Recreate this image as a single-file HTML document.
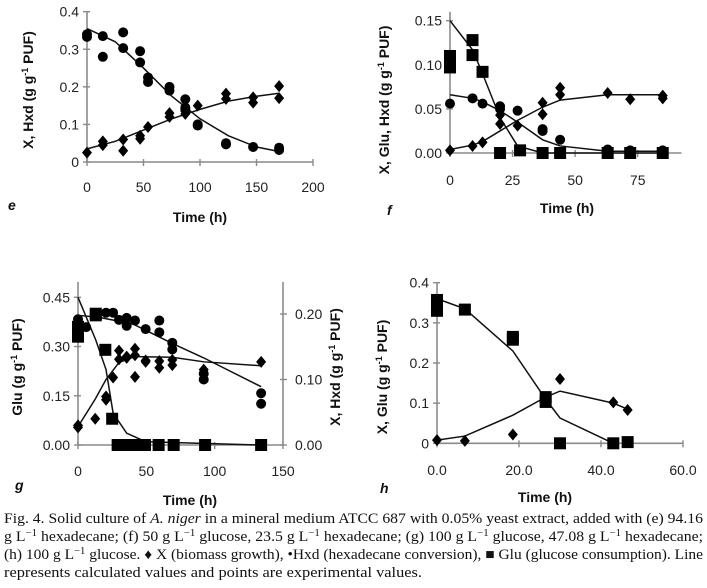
<!DOCTYPE html>
<html><head><meta charset="utf-8">
<style>
html,body{margin:0;padding:0;background:#fff;}
svg{display:block;}
text{font-family:"Liberation Sans","DejaVu Sans",sans-serif;}
.tick{font-size:14px;fill:#222;}
.ttl{font-size:14px;font-weight:bold;fill:#111;}
.cap{font-family:"Liberation Serif","DejaVu Serif",serif;font-size:14.5px;fill:#111;}
</style></head>
<body>
<svg id="fig" width="707" height="588" viewBox="0 0 707 588" xmlns="http://www.w3.org/2000/svg">
<g id="layer"></g>
<g>
<text class="cap" x="4" y="523" textLength="699" lengthAdjust="spacingAndGlyphs">Fig. 4.  Solid culture of <tspan font-style="italic">A. niger</tspan> in a mineral medium ATCC 687 with 0.05% yeast extract, added with (e) 94.16</text>
<text class="cap" x="4" y="541" textLength="699" lengthAdjust="spacingAndGlyphs">g L<tspan dy="-5" font-size="10">−1</tspan><tspan dy="5"> hexadecane; (f) 50 g L</tspan><tspan dy="-5" font-size="10">−1</tspan><tspan dy="5"> glucose, 23.5 g L</tspan><tspan dy="-5" font-size="10">−1</tspan><tspan dy="5"> hexadecane; (g) 100 g L</tspan><tspan dy="-5" font-size="10">−1</tspan><tspan dy="5"> glucose, 47.08 g L</tspan><tspan dy="-5" font-size="10">−1</tspan><tspan dy="5"> hexadecane;</tspan></text>
<text class="cap" x="4" y="559" textLength="699" lengthAdjust="spacingAndGlyphs">(h) 100 g L<tspan dy="-5" font-size="10">−1</tspan><tspan dy="5"> glucose. ♦ X (biomass growth), •Hxd (hexadecane conversion), ■ Glu (glucose consumption). Line</tspan></text>
<text class="cap" x="4" y="577" textLength="418" lengthAdjust="spacingAndGlyphs">represents calculated values and points are experimental values.</text>
</g>
</svg>
<script>
// ---------- Panel e ----------
const eHxdT=[0,0,14,14,32,32,47,47,54,54,73,73,87,87,87,98,98,123,123,147,170,170];
const eHxdV=[0.34,0.333,0.335,0.28,0.345,0.303,0.295,0.265,0.225,0.213,0.2,0.19,0.167,0.145,0.14,0.1,0.097,0.05,0.047,0.04,0.038,0.032];
const eXT=[0,14,14,32,32,47,47,54,73,73,87,87,98,123,123,147,147,170,170];
const eXV=[0.025,0.055,0.045,0.06,0.03,0.07,0.062,0.093,0.13,0.12,0.135,0.128,0.15,0.182,0.168,0.172,0.158,0.202,0.17];
const eFitT=[0,25,50,75,100,125,150,170];
const eFitHxd=[0.355,0.32,0.25,0.175,0.115,0.07,0.04,0.028];
const eFitX=[0.035,0.055,0.085,0.115,0.14,0.162,0.175,0.183];
const eYTicks=[0,0.1,0.2,0.3,0.4];
const eYLabels=["0","0.1","0.2","0.3","0.4"];
const eXTicks=[0,50,100,150,200];
const eXLabels=["0","50","100","150","200"];
// ---------- Panel f ----------
const fGluT=[0,0,9,9,13,20,28,37,44,63,72,85];
const fGluV=[0.11,0.097,0.128,0.111,0.092,0,0.003,0,0,0,0,0];
const fHxdT=[0,9,13,20,20,27,37,37,44,63,72,85];
const fHxdV=[0.056,0.062,0.056,0.053,0.05,0.048,0.027,0.025,0.015,0.004,0.003,0.003];
const fXT=[0,9,13,20,20,27,37,37,44,44,63,72,85,85];
const fXV=[0.003,0.008,0.012,0.033,0.043,0.031,0.057,0.044,0.074,0.066,0.068,0.061,0.065,0.062];
const fFitGluT=[0,9,13,20,27,37,85];
const fFitGlu=[0.15,0.117,0.09,0.04,0.008,0,0];
const fFitT=[0,9,13,20,27,37,44,63,85];
const fFitHxd=[0.066,0.062,0.058,0.048,0.035,0.015,0.008,0.002,0.002];
const fFitX=[0.004,0.009,0.013,0.025,0.037,0.052,0.06,0.066,0.066];
const fYTicks=[0,0.05,0.1,0.15];
const fYLabels=["0.00","0.05","0.10","0.15"];
const fXTicks=[0,25,50,75];
const fXLabels=["0","25","50","75"];
// ---------- Panel g ----------
const gGluT=[0,0,0,13,13,20,25,29,33,35,40,43,49,59,70,93,134];
const gGluV=[0.36,0.35,0.33,0.4,0.395,0.29,0.08,0,0,0,0,0,0,0,0,0,0];
const gHxdT=[0,0,6,20.5,25.7,30,35.6,35.6,41.7,49.5,59.5,59.5,69,69,92,92,134,134];
const gHxdV=[0.192,0.188,0.18,0.202,0.202,0.191,0.194,0.182,0.19,0.177,0.19,0.172,0.156,0.146,0.1,0.109,0.079,0.063];
const gXT=[0,0,12.6,20.5,20.5,25.7,30,30,35.6,35.6,41.7,41.7,41.7,49.5,49.5,59.5,59.5,69,69,92,92,134];
const gXV=[0.03,0.027,0.04,0.074,0.069,0.103,0.144,0.131,0.135,0.133,0.147,0.104,0.137,0.129,0.127,0.128,0.118,0.13,0.122,0.115,0.108,0.127];
const gFitGluT=[0,13,20.5,25.7,35.6,49.5,134];
const gFitGlu=[0.45,0.32,0.23,0.097,0.036,0.01,0];
const gFitHxdT=[0,15,40,69,92,134];
const gFitHxd=[0.198,0.195,0.185,0.155,0.133,0.089];
const gFitXT=[0,12.6,20.5,30,41.7,69,92,134];
const gFitX=[0.028,0.07,0.1,0.126,0.135,0.134,0.127,0.121];
const gYTicks=[0,0.15,0.3,0.45];
const gYLabels=["0.00","0.15","0.30","0.45"];
const gY2Ticks=[0,0.1,0.2];
const gY2Labels=["0.00","0.10","0.20"];
const gXTicks=[0,50,100,150];
const gXLabels=["0","50","100","150"];
// ---------- Panel h ----------
const hGluT=[0,0,6.8,18.5,18.5,26.5,26.5,30,43,46.5];
const hGluV=[0.357,0.33,0.333,0.265,0.258,0.115,0.103,0,0,0.003];
const hXT=[0,6.8,18.5,30,43,46.5];
const hXV=[0.008,0.006,0.022,0.16,0.102,0.083];
const hFitGluT=[0,6.8,18.5,26.5,30,43];
const hFitGlu=[0.36,0.335,0.23,0.11,0.063,0];
const hFitXT=[0,6.8,18.5,26.5,30,43,46.5];
const hFitX=[0.008,0.018,0.07,0.115,0.13,0.1,0.085];
const hYTicks=[0,0.1,0.2,0.3,0.4];
const hYLabels=["0","0.1","0.2","0.3","0.4"];
const hXTicks=[0,20,40,60];
const hXLabels=["0.0","20.0","40.0","60.0"];

const NS="http://www.w3.org/2000/svg";
const layer=document.getElementById('layer');
function mk(tag,attrs,parent){const el=document.createElementNS(NS,tag);for(const k in attrs)el.setAttribute(k,attrs[k]);(parent||layer).appendChild(el);return el;}
function scale(d0,d1,p0,p1){return v=>p0+(v-d0)/(d1-d0)*(p1-p0);}

function axes(g,sx,sy,xmin,xmax,ymin,ymax,xt,xl,yt,yl,xLabY){
  const ax=mk('g',{},g);
  
  
  mk('line',{x1:sx(xmin),y1:sy(ymin),x2:sx(xmax),y2:sy(ymin),stroke:'#8a8a8a','stroke-width':1.6},ax);
  mk('line',{x1:sx(xmin),y1:sy(ymin),x2:sx(xmin),y2:sy(ymax),stroke:'#8a8a8a','stroke-width':1.6},ax);
  xt.forEach((v,i)=>{
    mk('line',{x1:sx(v),y1:sy(ymin)-3,x2:sx(v),y2:sy(ymin)+4,stroke:'#8a8a8a','stroke-width':1.4},ax);
    const t=mk('text',{x:sx(v),y:xLabY,'text-anchor':'middle',class:'tick'},ax);
    
    
    t.textContent=xl[i];
  });
  yt.forEach((v,i)=>{
    mk('line',{x1:sx(xmin)-4,y1:sy(v),x2:sx(xmin)+3,y2:sy(v),stroke:'#8a8a8a','stroke-width':1.4},ax);
    const t=mk('text',{x:sx(xmin)-8,y:sy(v)+5,'text-anchor':'end',class:'tick'},ax);
    
    
    t.textContent=yl[i];
  });
}
function ylabel(g,x,y,main){
  const t=mk('text',{x:x,y:y,'text-anchor':'middle',class:'ttl',transform:`rotate(-90 ${x} ${y})`},g);
  
  
  t.innerHTML=main+' (g g<tspan dy="-5" font-size="9">-1</tspan><tspan dy="5"> PUF)</tspan>';
}
function text(g,x,y,s,cls,name,extra){
  const t=mk('text',Object.assign({x:x,y:y,class:cls},extra||{}),g);
  
  
  t.textContent=s;return t;
}
function line(g,sx,sy,T,V,name){
  const p=mk('polyline',{points:T.map((t,i)=>sx(t)+','+sy(V[i])).join(' '),fill:'none',stroke:'#111','stroke-width':1.5},g);
  
  
}
function circles(g,sx,sy,T,V,name){
  T.forEach((t,i)=>{const c=mk('circle',{cx:sx(t),cy:sy(V[i]),r:5,fill:'#000'},g);
    
    });
}
function diamonds(g,sx,sy,T,V,name,s){
  s=s||5;
  T.forEach((t,i)=>{const x=sx(t),y=sy(V[i]);
    const d=mk('polygon',{points:`${x},${y-s-1} ${x+s},${y} ${x},${y+s+1} ${x-s},${y}`,fill:'#000'},g);
    
    });
}
function squares(g,sx,sy,T,V,name){
  T.forEach((t,i)=>{const r=mk('rect',{x:sx(t)-6,y:sy(V[i])-6,width:12,height:12,fill:'#000'},g);
    
    });
}
function panel(name){const g=mk('g',{});return g;}

// Panel e
(function(){
  const g=panel('panel-e');
  const sx=scale(0,200,87,313), sy=scale(0,0.4,162,11.7);
  axes(g,sx,sy,0,200,0,0.4,eXTicks,eXLabels,eYTicks,eYLabels,192);
  ylabel(g,33,90,'X, Hxd');
  text(g,200,222,'Time (h)','ttl','x-axis-title',{'text-anchor':'middle'});
  text(g,8,210,'e','ttl','panel-label',{'font-style':'italic','font-size':'15'});
  line(g,sx,sy,eFitT,eFitHxd,'hxd-fit-line');
  line(g,sx,sy,eFitT,eFitX,'biomass-fit-line');
  circles(g,sx,sy,eHxdT,eHxdV,'hxd-point');
  diamonds(g,sx,sy,eXT,eXV,'biomass-point');
})();
// Panel f
(function(){
  const g=panel('panel-f');
  const sx=scale(0,75,450,637.7), sy=scale(0,0.15,153,20.7);
  axes(g,sx,sy,0,92.5,0,0.16,fXTicks,fXLabels,fYTicks,fYLabels,185);
  ylabel(g,389,100,'X, Glu, Hxd');
  text(g,567,213,'Time (h)','ttl','x-axis-title',{'text-anchor':'middle'});
  text(g,387,215,'f','ttl','panel-label',{'font-style':'italic','font-size':'15'});
  line(g,sx,sy,fFitGluT,fFitGlu,'glu-fit-line');
  line(g,sx,sy,fFitT,fFitHxd,'hxd-fit-line');
  line(g,sx,sy,fFitT,fFitX,'biomass-fit-line');
  squares(g,sx,sy,fGluT,fGluV,'glu-point');
  circles(g,sx,sy,fHxdT,fHxdV,'hxd-point');
  diamonds(g,sx,sy,fXT,fXV,'biomass-point');
})();
// Panel g
(function(){
  const g=panel('panel-g');
  const sx=scale(0,150,78,283), sy=scale(0,0.45,445,297.3), sy2=scale(0,0.2,445,314);
  axes(g,sx,sy,0,150,0,0.497,gXTicks,gXLabels,gYTicks,gYLabels,476);
  const r=mk('g',{},g);
  
  
  mk('line',{x1:sx(150),y1:445,x2:sx(150),y2:282,stroke:'#8a8a8a','stroke-width':1.6},r);
  gY2Ticks.forEach((v,i)=>{
    mk('line',{x1:sx(150)-3,y1:sy2(v),x2:sx(150)+4,y2:sy2(v),stroke:'#8a8a8a','stroke-width':1.4},r);
    text(r,sx(150)+12,sy2(v)+5,gY2Labels[i],'tick','y2-tick-label');
  });
  ylabel(g,22,367,'Glu');
  ylabel(g,340,367,'X, Hxd');
  text(g,190,505,'Time (h)','ttl','x-axis-title',{'text-anchor':'middle'});
  text(g,15,490,'g','ttl','panel-label',{'font-style':'italic','font-size':'15'});
  line(g,sx,sy,gFitGluT,gFitGlu,'glu-fit-line');
  line(g,sx,sy2,gFitHxdT,gFitHxd,'hxd-fit-line');
  line(g,sx,sy2,gFitXT,gFitX,'biomass-fit-line');
  squares(g,sx,sy,gGluT,gGluV,'glu-point');
  circles(g,sx,sy2,gHxdT,gHxdV,'hxd-point');
  diamonds(g,sx,sy2,gXT,gXV,'biomass-point');
})();
// Panel h
(function(){
  const g=panel('panel-h');
  const sx=scale(0,60,437,683), sy=scale(0,0.4,443.3,282.7);
  axes(g,sx,sy,0,60,0,0.4,hXTicks,hXLabels,hYTicks,hYLabels,475);
  ylabel(g,387,377,'X, Glu');
  text(g,545,502,'Time (h)','ttl','x-axis-title',{'text-anchor':'middle'});
  text(g,380,493,'h','ttl','panel-label',{'font-style':'italic','font-size':'15'});
  line(g,sx,sy,hFitGluT,hFitGlu,'glu-fit-line');
  line(g,sx,sy,hFitXT,hFitX,'biomass-fit-line');
  squares(g,sx,sy,hGluT,hGluV,'glu-point');
  diamonds(g,sx,sy,hXT,hXV,'biomass-point');
})();
</script>
</body></html>
